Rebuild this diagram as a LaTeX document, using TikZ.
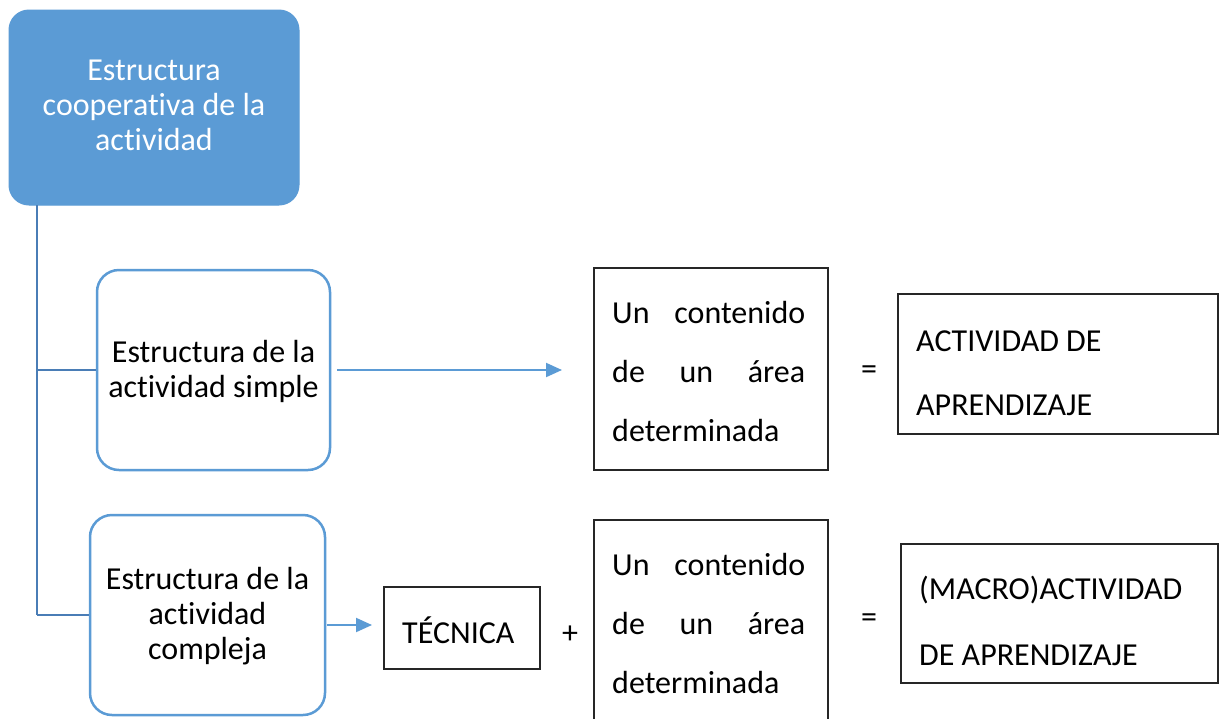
\documentclass[tikz,border=0pt]{standalone}
\usepackage{fontspec}
\setmainfont{Carlito}[Ligatures=NoCommon]
\usetikzlibrary{arrows.meta}
\definecolor{acc}{HTML}{5B9BD5}
\definecolor{trunkc}{HTML}{4A7DB6}
\tikzset{
  topbox/.style={draw=acc, fill=acc, rounded corners=20pt, line width=1pt, minimum width=290pt, minimum height=195pt, inner sep=0pt},
  bluebox/.style={draw=acc, fill=white, rounded corners=22pt, line width=2.5pt, inner sep=0pt},
  plainbox/.style={draw=black!85, line width=1.3pt, inner sep=0pt},
  txt/.style={inner sep=0pt, font=\fontsize{32}{35}\selectfont},
  ctxt/.style={txt, align=center, anchor=base},
  jtxt/.style={inner sep=0pt, align=left, anchor=base west},
  branch/.style={draw=trunkc, line width=2.5pt},
  arr/.style={draw=acc, line width=2pt, -{Triangle[length=16pt,width=14pt]}},
}
\begin{document}
\begin{tikzpicture}[x=1pt,y=-1pt]
\useasboundingbox[fill=white] (0,0) rectangle (1220,718);
% top box
\node[topbox] (top) at (154,107.5) {};
\node[ctxt, text=white] (toptxt) at (154,150) {Estructura\\cooperativa de la\\actividad};
% blue boxes
\node[bluebox, minimum width=233pt, minimum height=200pt] (simple) at (213.5,370) {};
\node[ctxt] (simpletxt) at (213.5,397) {Estructura de la\\actividad simple};
\node[bluebox, minimum width=235pt, minimum height=200pt] (complex) at (207.5,615) {};
\node[ctxt] (complextxt) at (207.5,659) {Estructura de la\\actividad\\compleja};
% trunk
\coordinate (trunk) at (37,205);
\coordinate (trunkend) at (37,615);
\draw[branch] (trunk) -- (trunkend);
\draw[branch] (trunk |- simple.west) -- (simple.west);
\draw[branch] (trunkend) -- (complex.west);
% content boxes
\node[plainbox, minimum width=234pt, minimum height=202pt] (cont1) at (711,369) {};
\node[jtxt, font=\fontsize{32}{59}\selectfont] (cont1txt) at (612,441) {\makebox[193pt][s]{Un contenido}\\\makebox[193pt][s]{de un área}\\determinada};
\draw[plainbox] (594,722) -- (594,520) -- (828,520) -- (828,722);
\coordinate (cont2c) at (711,620);
\node[jtxt, font=\fontsize{32}{59}\selectfont] (cont2txt) at (612,693) {\makebox[193pt][s]{Un contenido}\\\makebox[193pt][s]{de un área}\\determinada};
% arrows
\coordinate (a1s) at (337,370);
\coordinate (a1e) at (562,370);
\draw[arr] (a1s) -- (a1e);
\coordinate (a2s) at (327,625);
\coordinate (a2e) at (372,625);
\draw[arr] (a2s) -- (a2e);
% tecnica
\node[plainbox, minimum width=156pt, minimum height=82pt] (tec) at (462,628) {};
\node[txt, anchor=base west] (tectxt) at (402,643) {TÉCNICA};
\node[txt] (plus) at (570,635) {+};
% equals
\node[txt] (eq1) at (869,373) {=};
\node[txt] (eq2) at (869,621) {=};
% result boxes
\node[plainbox, minimum width=320pt, minimum height=140pt] (res1) at (1058,364) {};
\node[jtxt, font=\fontsize{32}{64}\selectfont] (res1txt) at (916,415) {ACTIVIDAD DE\\APRENDIZAJE};
\node[plainbox, minimum width=317pt, minimum height=139pt] (res2) at (1059.5,613.5) {};
\node[jtxt, font=\fontsize{32}{66}\selectfont] (res2txt) at (919,665) {(MACRO)ACTIVIDAD\\DE APRENDIZAJE};
\end{tikzpicture}
\end{document}
